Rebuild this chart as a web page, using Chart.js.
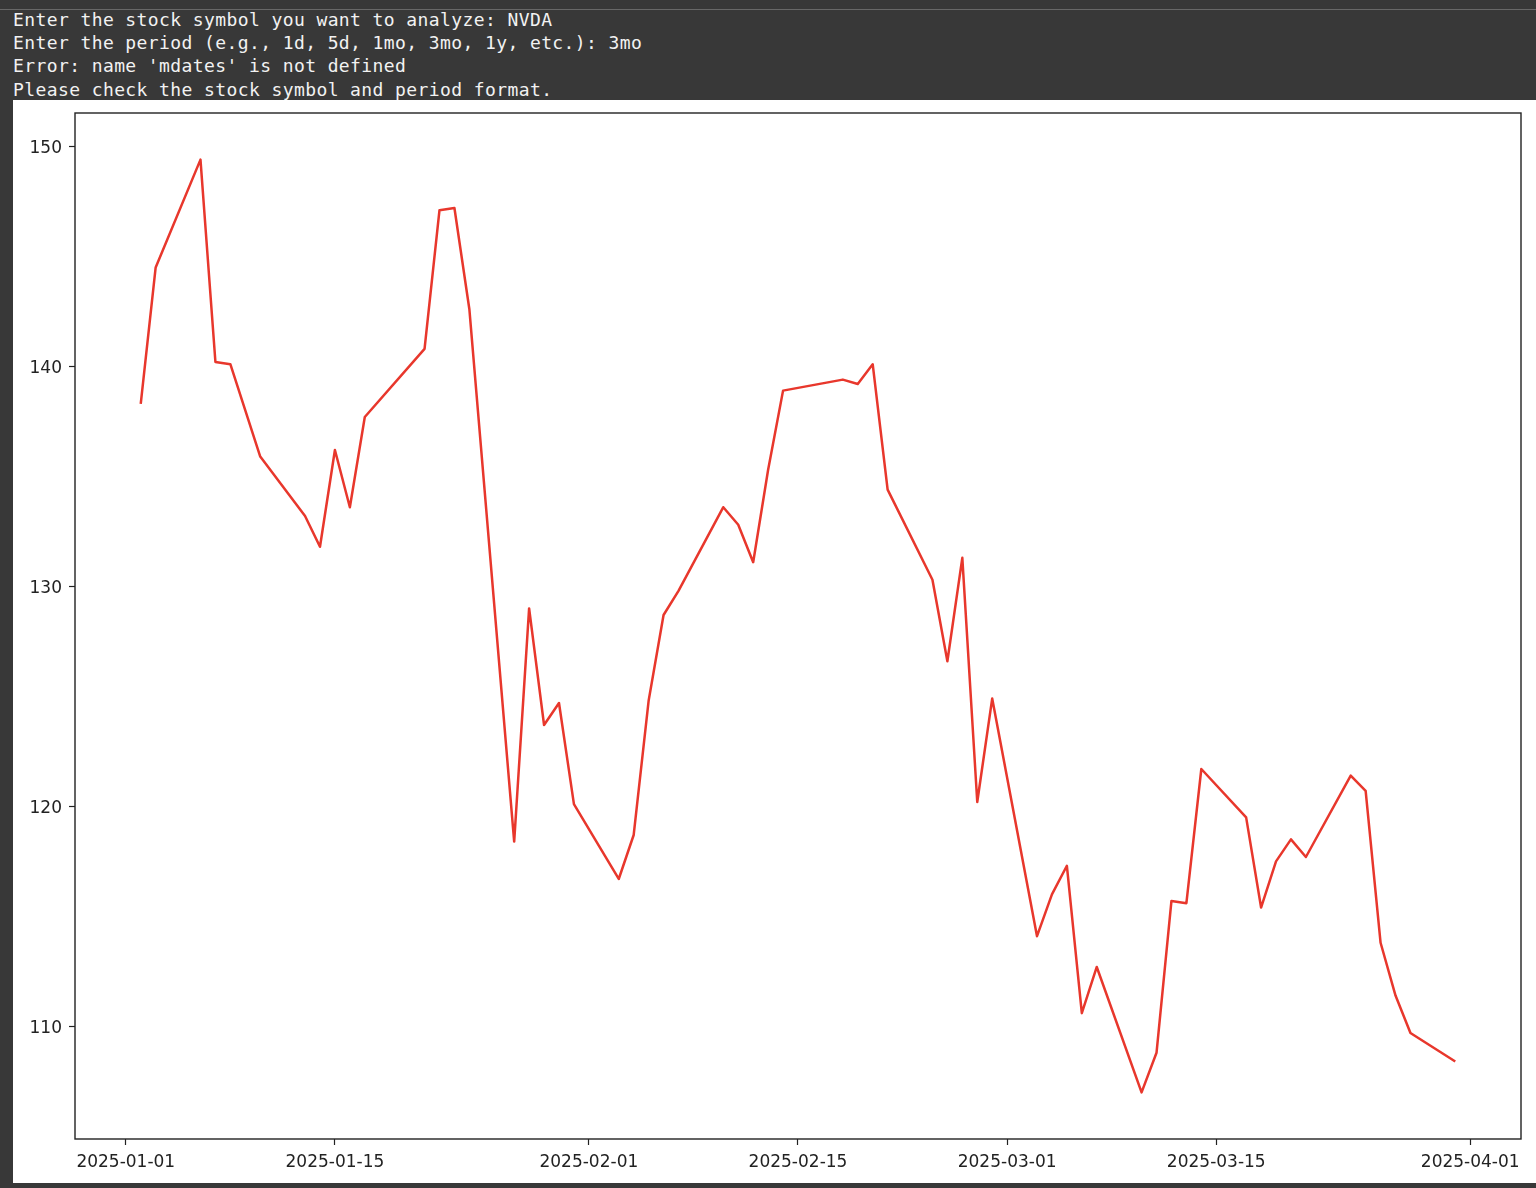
<!DOCTYPE html>
<html>
<head>
<meta charset="utf-8">
<script src="https://cdn.jsdelivr.net/npm/chart.js@4/dist/chart.umd.min.js"></script>
<style>
  html, body { margin: 0; padding: 0; }
  body { width: 1536px; height: 1188px; background: #383838; position: relative; overflow: hidden; }
  .topline { position: absolute; left: 0; top: 9px; width: 1536px; height: 1px; background: #686868; }
  pre.out {
    position: absolute; left: 13px; top: 7.8px; margin: 0;
    font-family: "DejaVu Sans Mono", monospace; font-size: 18px; letter-spacing: 0.4px;
    line-height: 23.3px; color: #f2f2f2;
  }
  .panel { position: absolute; left: 13px; top: 100px; width: 1523px; height: 1083px; background: #fff; }
  canvas { display: block; }
</style>
</head>
<body>
<div class="topline"></div>
<pre class="out">Enter the stock symbol you want to analyze: NVDA
Enter the period (e.g., 1d, 5d, 1mo, 3mo, 1y, etc.): 3mo
Error: name 'mdates' is not defined
Please check the stock symbol and period format.</pre>
<div class="panel"><canvas id="priceChart" width="1523" height="1083"></canvas></div>
<script>
// trading days shown on the plot
const dates = [
  '2025-01-02','2025-01-03','2025-01-06','2025-01-07','2025-01-08','2025-01-10','2025-01-13',
  '2025-01-14','2025-01-15','2025-01-16','2025-01-17','2025-01-21','2025-01-22','2025-01-23',
  '2025-01-24','2025-01-27','2025-01-28','2025-01-29','2025-01-30','2025-01-31',
  '2025-02-03','2025-02-04','2025-02-05','2025-02-06','2025-02-07','2025-02-10','2025-02-11',
  '2025-02-12','2025-02-13','2025-02-14','2025-02-18','2025-02-19','2025-02-20','2025-02-21',
  '2025-02-24','2025-02-25','2025-02-26','2025-02-27','2025-02-28',
  '2025-03-03','2025-03-04','2025-03-05','2025-03-06','2025-03-07','2025-03-10','2025-03-11',
  '2025-03-12','2025-03-13','2025-03-14','2025-03-17','2025-03-18','2025-03-19','2025-03-20',
  '2025-03-21','2025-03-24','2025-03-25','2025-03-26','2025-03-27','2025-03-28','2025-03-31'
];

const closes = [
  138.3, 144.5, 149.4, 140.2, 140.1, 135.9, 133.2, 131.8, 136.2, 133.6,
  137.7, 140.8, 147.1, 147.2, 142.6, 118.4, 129.0, 123.7, 124.7, 120.1,
  116.7, 118.7, 124.8, 128.7, 129.8, 133.6, 132.8, 131.1, 135.3, 138.9,
  139.4, 139.2, 140.1, 134.4, 130.3, 126.6, 131.3, 120.2, 124.9,
  114.1, 116.0, 117.3, 110.6, 112.7, 107.0, 108.8, 115.7, 115.6, 121.7,
  119.5, 115.4, 117.5, 118.5, 117.7, 121.4, 120.7, 113.8, 111.4, 109.7, 108.4
];

const xTickDates = ['2025-01-01','2025-01-15','2025-02-01','2025-02-15','2025-03-01','2025-03-15','2025-04-01'];
const yTicks = [110, 120, 130, 140, 150];

const origin = Date.parse('2025-01-01');
const toDay = (d) => (Date.parse(d) - origin) / 86400000;

const points = dates.map((d, i) => ({ x: toDay(d), y: closes[i] }));

// matplotlib-style 5% margins
const xFirst = toDay(dates[0]);
const xLast = toDay(dates[dates.length - 1]);
const xPad = (xLast - xFirst) * 0.05;
const yMinV = Math.min(...closes);
const yMaxV = Math.max(...closes);
const yPad = (yMaxV - yMinV) * 0.05;

const tickFont = { family: '"DejaVu Sans", sans-serif', size: 17 };
const ink = '#222222';

const frame = {
  id: 'frame',
  afterDraw(chart) {
    const { ctx, chartArea } = chart;
    ctx.save();
    ctx.strokeStyle = ink;
    ctx.lineWidth = 1.4;
    ctx.strokeRect(chartArea.left, chartArea.top, chartArea.right - chartArea.left, chartArea.bottom - chartArea.top);
    ctx.restore();
  }
};

const ctx = document.getElementById('priceChart').getContext('2d');
new Chart(ctx, {
  type: 'line',
  data: {
    datasets: [{
      data: points,
      borderColor: '#e8372c',
      borderWidth: 2.5,
      borderJoinStyle: 'round',
      pointRadius: 0,
      tension: 0,
      fill: false,
    }],
  },
  options: {
    responsive: false,
    animation: false,
    devicePixelRatio: 1,
    layout: { padding: { top: 13, right: 15, left: 0, bottom: 0 } },
    plugins: {
      legend: { display: false },
      tooltip: { enabled: false },
    },
    scales: {
      x: {
        type: 'linear',
        min: xFirst - xPad,
        max: xLast + xPad,
        afterBuildTicks: (scale) => { scale.ticks = xTickDates.map((d) => ({ value: toDay(d) })); },
        afterFit: (scale) => { scale.height = 44; scale.paddingLeft = 0; scale.paddingRight = 0; },
        grid: { drawOnChartArea: false, drawTicks: true, tickLength: 6, tickColor: ink, tickWidth: 1.2 },
        border: { display: false },
        ticks: {
          font: tickFont,
          color: ink,
          padding: 7,
          maxRotation: 0,
          autoSkip: false,
          callback: (v) => xTickDates[xTickDates.map(toDay).indexOf(v)],
        },
      },
      y: {
        min: yMinV - yPad,
        max: yMaxV + yPad,
        afterBuildTicks: (scale) => { scale.ticks = yTicks.map((v) => ({ value: v })); },
        afterFit: (scale) => { scale.width = 62; scale.paddingTop = 0; scale.paddingBottom = 0; },
        grid: { drawOnChartArea: false, drawTicks: true, tickLength: 6, tickColor: ink, tickWidth: 1.2 },
        border: { display: false },
        ticks: {
          font: tickFont,
          color: ink,
          padding: 7,
          labelOffset: 2,
          autoSkip: false,
          callback: (v) => String(v),
        },
      },
    },
  },
  plugins: [frame],
});
</script>
</body>
</html>
